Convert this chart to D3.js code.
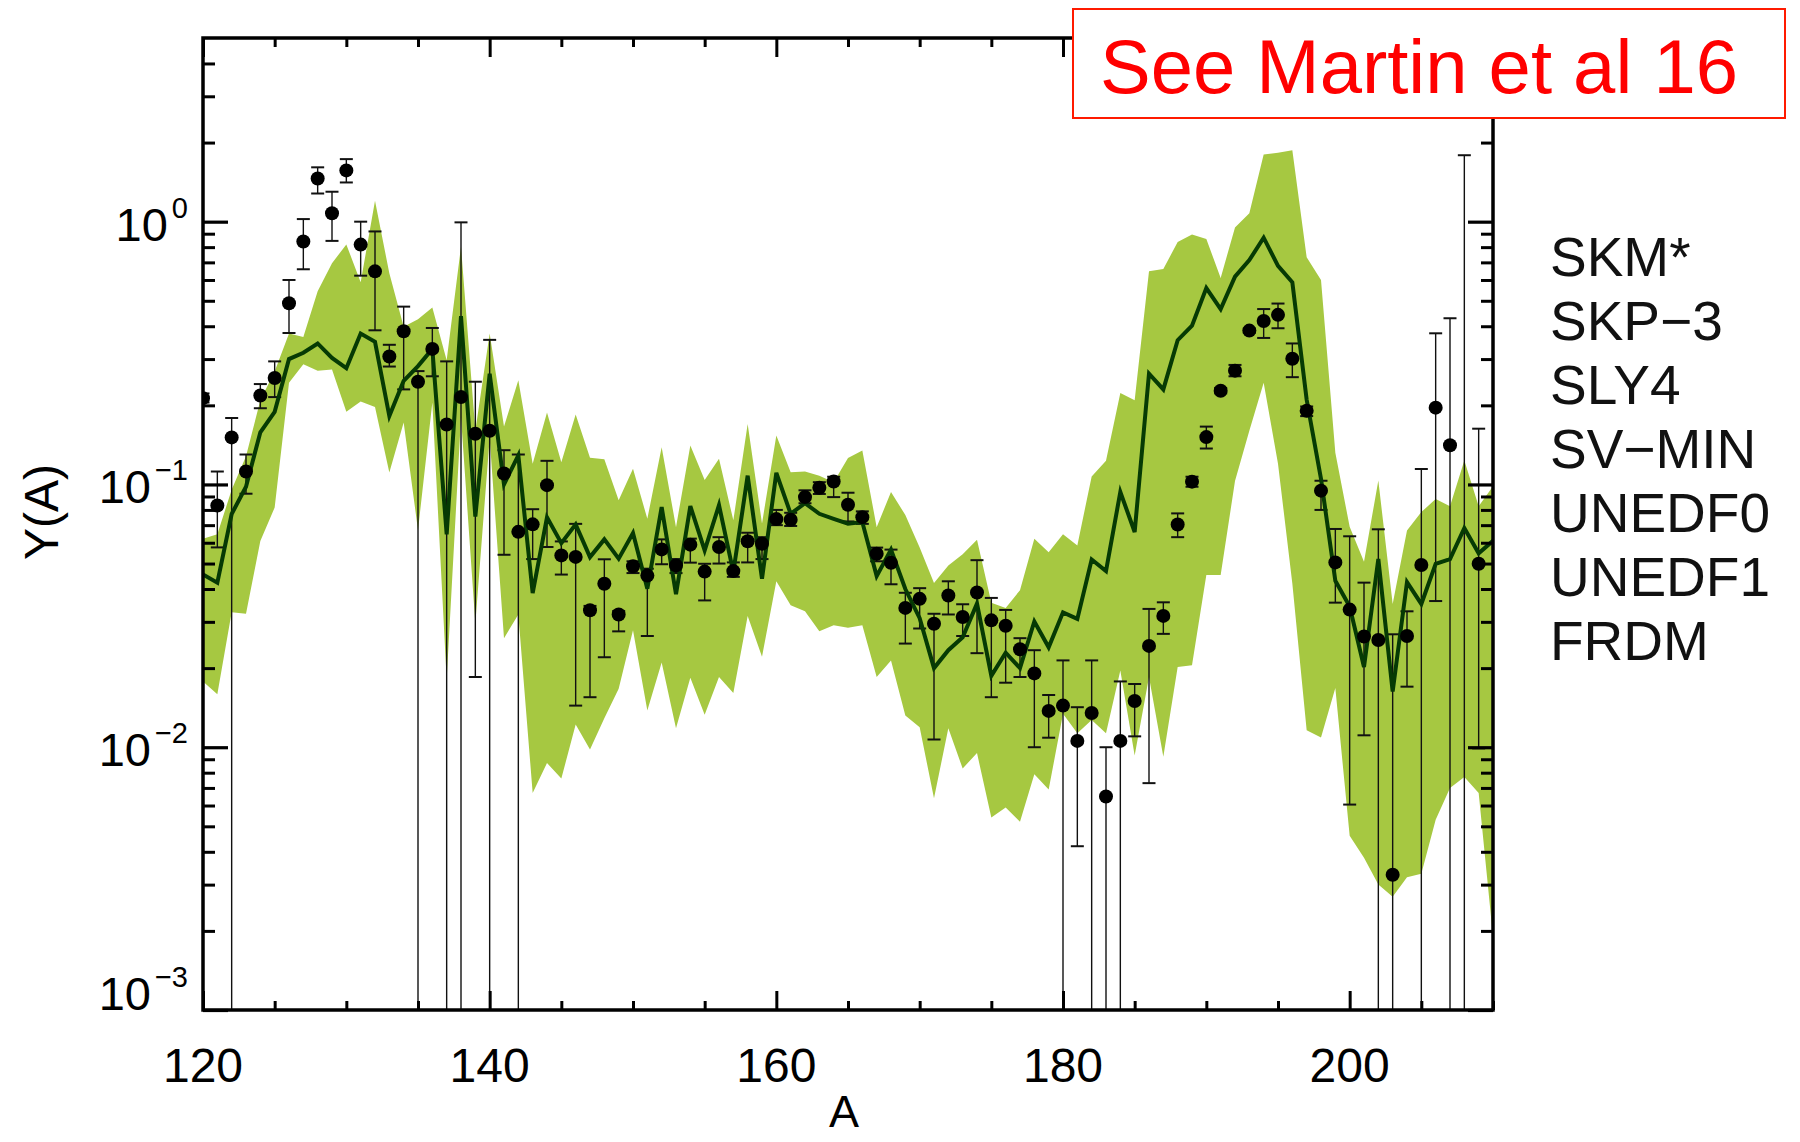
<!DOCTYPE html>
<html>
<head>
<meta charset="utf-8">
<script src="https://cdn.jsdelivr.net/npm/d3@7"></script>
<style>
  html, body { margin: 0; padding: 0; background: #fff; }
  svg { display: block; }
  text { font-family: "Liberation Sans", Arial, Helvetica, sans-serif; }
</style>
</head>
<body>
<svg id="chart" width="1800" height="1142"></svg>
<script>
// ---- Measured fragment yields Y(A) with uncertainties ----
const dotA = [120,121,122,123,124,125,126,127,128,129,130,131,132,133,134,135,136,137,138,139,
              140,141,142,143,144,145,146,147,148,149,150,151,152,153,154,155,156,157,158,159,
              160,161,162,163,164,165,166,167,168,169,170,171,172,173,174,175,176,177,178,179,
              180,181,182,183,184,185,186,187,188,189,190,191,192,193,194,195,196,197,198,199,
              200,201,202,203,204,205,206,207,208,209];
const dotY = [0.213,0.0832,0.151,0.112,0.218,0.254,0.489,0.841,1.46,1.076,
              1.567,0.818,0.647,0.307,0.383,0.246,0.328,0.169,0.215,0.156,
              0.160,0.110,0.066,0.0705,0.0994,0.0537,0.053,0.0332,0.0419,0.032,
              0.0488,0.045,0.0566,0.0492,0.059,0.0466,0.0578,0.0468,0.0608,0.0595,
              0.0738,0.0734,0.0895,0.0971,0.1026,0.0837,0.0751,0.0545,0.0503,0.0339,
              0.0367,0.0295,0.0378,0.0313,0.0388,0.0304,0.029,0.0236,0.0191,0.01375,
              0.0144,0.01057,0.0135,0.00649,0.01057,0.0150,0.0243,0.0316,0.0704,0.1025,
              0.1514,0.2274,0.271,0.385,0.419,0.442,0.301,0.1906,0.0947,0.0505,
              0.0334,0.0264,0.0256,0.00327,0.0265,0.0494,0.196,0.141,null,0.0499];
// lower / upper ends of the error bars (0 = bar runs off the bottom of the log axis)
const dotLo = [0.205,0.0576,0,0.0922,0.195,0.215,0.377,0.659,1.28,0.845,
               1.41,0.623,0.386,0.281,0.23,0,0.258,0,0,0.0185,
               0,0.054,0,0.052,0.0578,0.0454,0.0144,0.0155,0.022,0.0276,
               0.046,0.0265,0.0497,0.046,0.0504,0.0362,0.050,0.0445,0.0505,0.052,
               0.070,0.0695,0.0848,0.092,0.0895,0.0723,0.0708,0.051,0.0417,0.0248,
               0.0283,0.0107,0.032,0.0265,0.0228,0.0155,0.0176,0.0185,0.010,0.01087,
               0,0.0042,0,0,0,0.011,0.0073,0.027,0.063,0.098,
               0.137,0.222,0.258,0.378,0.361,0.393,0.256,0.182,0.080,0.0355,
               0.00605,0.0111,0,0,0.0170,0,0.036,0,0,0.0099];
const dotHi = [0.222,0.112,0.179,0.130,0.241,0.294,0.600,1.023,1.61,1.30,
               1.73,1.0,0.918,0.34,0.475,0.27,0.394,0.294,0.994,0.246,
               0.355,0.135,0.130,0.0805,0.123,0.0607,0.0708,0.0345,0.0519,0.033,
               0.051,0.0478,0.0618,0.052,0.0622,0.0499,0.063,0.0505,0.0655,0.063,
               0.080,0.078,0.095,0.102,0.107,0.093,0.079,0.0575,0.0565,0.0387,
               0.0403,0.0322,0.0428,0.035,0.0515,0.037,0.0333,0.026,0.0234,0.0158,
               0.0214,0.0142,0.0214,0.010,0.0178,0.0174,0.0336,0.0356,0.0776,0.107,
               0.166,0.233,0.285,0.392,0.465,0.488,0.344,0.198,0.1033,0.0677,
               0.0635,0.0423,0.0675,0.0269,0.0329,0.1145,0.376,0.429,1.79,0.163];

// ---- Model spread (SKM*, SKP-3, SLY4, SV-MIN, UNEDF0, UNEDF1, FRDM) ----
const modelA = [120,121,122,123,124,125,126,127,128,129,130,131,132,133,134,135,136,137,138,139,
                140,141,142,143,144,145,146,147,148,149,150,151,152,153,154,155,156,157,158,159,
                160,161,162,163,164,165,166,167,168,169,170,171,172,173,174,175,176,177,178,179,
                180,181,182,183,184,185,186,187,188,189,190,191,192,193,194,195,196,197,198,199,
                200,201,202,203,204,205,206,207,208,209,210];
const bandLow = [0.0178,0.0159,0.0326,0.0322,0.0609,0.0817,0.244,0.287,0.271,0.274,
                 0.189,0.207,0.197,0.111,0.172,0.067,0.205,0.0181,0.18,0.0296,
                 0.15,0.026,0.032,0.0067,0.0087,0.0076,0.0122,0.0098,0.0129,0.0167,
                 0.0279,0.0138,0.021,0.0118,0.0184,0.0133,0.0185,0.0161,0.0316,0.0221,
                 0.0428,0.0347,0.0329,0.0276,0.0291,0.0285,0.0291,0.0185,0.0214,0.0132,
                 0.0119,0.0064,0.0118,0.0083,0.0095,0.0054,0.0059,0.0052,0.0079,0.0069,
                 0.0134,0.0113,0.0127,0.0113,0.0196,0.0093,0.0185,0.0092,0.0202,0.0205,
                 0.0452,0.0452,0.103,0.16,0.244,0.12,0.042,0.0116,0.0109,0.0168,
                 0.0046,0.0038,0.003,0.0027,0.0032,0.0033,0.0053,0.007,0.0077,0.0067,
                 0.0019];
const bandHigh = [0.0621,0.0646,0.0955,0.128,0.209,0.269,0.375,0.364,0.544,0.695,
                  0.819,0.588,1.20,0.636,0.398,0.425,0.471,0.297,0.803,0.16,
                  0.375,0.166,0.249,0.12,0.188,0.1216,0.1846,0.1263,0.1248,0.087,
                  0.1148,0.074,0.1386,0.0688,0.1407,0.104,0.1252,0.073,0.170,0.071,
                  0.1535,0.1114,0.112,0.108,0.102,0.126,0.1347,0.0688,0.0935,0.0765,
                  0.0576,0.0422,0.0492,0.0542,0.0616,0.0355,0.0339,0.0396,0.0621,0.0552,
                  0.0646,0.0586,0.1073,0.123,0.223,0.209,0.648,0.661,0.836,0.893,
                  0.859,0.611,0.950,1.077,1.80,1.83,1.87,0.732,0.60,0.132,
                  0.069,0.0508,0.1035,0.0351,0.0668,0.0785,0.088,0.0826,0.1233,0.0826,
                  0.0985];
const modelMean = [0.0454,0.0423,0.0772,0.098,0.158,0.189,0.300,0.317,0.344,0.303,
                   0.277,0.375,0.349,0.182,0.248,0.282,0.328,0.0646,0.437,0.0755,
                   0.264,0.100,0.129,0.0386,0.075,0.0598,0.0705,0.0529,0.0618,0.0522,
                   0.0653,0.0401,0.082,0.0382,0.0827,0.0561,0.0834,0.0464,0.108,0.0438,
                   0.1107,0.0773,0.0849,0.0773,0.074,0.0709,0.0719,0.0448,0.0565,0.040,
                   0.031,0.020,0.0234,0.0262,0.0352,0.0187,0.0229,0.0200,0.0301,0.0240,
                   0.0326,0.0308,0.0518,0.0468,0.0936,0.0659,0.264,0.230,0.354,0.402,
                   0.559,0.465,0.618,0.714,0.869,0.679,0.588,0.21,0.105,0.043,
                   0.0343,0.0202,0.052,0.0163,0.0425,0.0351,0.0499,0.052,0.0682,0.0547,
                   0.061];

const modelNames = ["SKM*", "SKP\u22123", "SLY4", "SV\u2212MIN", "UNEDF0", "UNEDF1", "FRDM"];

// ---- Axis ticks ----
const xMajorTicks = [120, 140, 160, 180, 200];
const xMinorTicks = [125, 130, 135, 145, 150, 155, 165, 170, 175, 185, 190, 195, 205, 210];
const yExponents = [0, -1, -2, -3];
const yMinorTicks = [0.002,0.003,0.004,0.005,0.006,0.007,0.008,0.009,
                     0.02,0.03,0.04,0.05,0.06,0.07,0.08,0.09,
                     0.2,0.3,0.4,0.5,0.6,0.7,0.8,0.9,
                     2,3,4];
const noteText = "See Martin et al 16";

// ---- Layout ----
const plot = { left: 203, right: 1493, top: 38, bottom: 1010 };
const svg = d3.select("#chart");

const x = d3.scaleLinear().domain([120, 210]).range([plot.left, plot.right]);
const y = d3.scaleLog().domain([1e-3, 5]).range([plot.bottom, plot.top]);

svg.append("defs").append("clipPath").attr("id", "plotClip")
  .append("rect")
  .attr("x", plot.left).attr("y", plot.top)
  .attr("width", plot.right - plot.left).attr("height", plot.bottom - plot.top);

const data = svg.append("g").attr("clip-path", "url(#plotClip)");

// model band
const model = modelA.map((a, i) => ({ a, lo: bandLow[i], hi: bandHigh[i], m: modelMean[i] }));
data.append("path")
  .datum(model)
  .attr("fill", "#a6c841")
  .attr("d", d3.area().x(d => x(d.a)).y0(d => y(d.lo)).y1(d => y(d.hi)));

// error bars
const points = dotA.map((a, i) => ({ a, v: dotY[i], lo: dotLo[i], hi: dotHi[i] }));
const yLo = d => d.lo > 0 ? y(d.lo) : plot.bottom + 5;
const bars = data.append("g").attr("stroke", "#111");
bars.selectAll("line.bar").data(points).join("line")
  .attr("class", "bar")
  .attr("x1", d => x(d.a)).attr("x2", d => x(d.a))
  .attr("y1", d => y(d.hi)).attr("y2", yLo)
  .attr("stroke-width", 1.4);
bars.selectAll("line.capHi").data(points).join("line")
  .attr("class", "capHi")
  .attr("x1", d => x(d.a) - 6.5).attr("x2", d => x(d.a) + 6.5)
  .attr("y1", d => y(d.hi)).attr("y2", d => y(d.hi))
  .attr("stroke-width", 2);
bars.selectAll("line.capLo").data(points.filter(d => d.lo > 0)).join("line")
  .attr("class", "capLo")
  .attr("x1", d => x(d.a) - 6.5).attr("x2", d => x(d.a) + 6.5)
  .attr("y1", d => y(d.lo)).attr("y2", d => y(d.lo))
  .attr("stroke-width", 2);

// model mean line
data.append("path")
  .datum(model)
  .attr("fill", "none")
  .attr("stroke", "#063a04")
  .attr("stroke-width", 4)
  .attr("stroke-linejoin", "miter")
  .attr("d", d3.line().x(d => x(d.a)).y(d => y(d.m)));

// measured points
data.selectAll("circle").data(points.filter(d => d.v !== null)).join("circle")
  .attr("cx", d => x(d.a)).attr("cy", d => y(d.v))
  .attr("r", 7).attr("fill", "#000");

// ---- Axes (ticks pointing inward on all four sides) ----
function styleAxis(g, width) {
  g.select(".domain").remove();
  g.selectAll(".tick line").attr("stroke", "#000").attr("stroke-width", width);
  g.selectAll(".tick text").remove();
}
svg.append("g").attr("transform", `translate(0,${plot.bottom})`)
  .call(d3.axisBottom(x).tickValues(xMajorTicks).tickSizeInner(-19).tickSizeOuter(0))
  .call(g => styleAxis(g, 3));
svg.append("g").attr("transform", `translate(0,${plot.bottom})`)
  .call(d3.axisBottom(x).tickValues(xMinorTicks).tickSizeInner(-9).tickSizeOuter(0))
  .call(g => styleAxis(g, 3));
svg.append("g").attr("transform", `translate(0,${plot.top})`)
  .call(d3.axisBottom(x).tickValues(xMajorTicks).tickSizeInner(19).tickSizeOuter(0))
  .call(g => styleAxis(g, 3));
svg.append("g").attr("transform", `translate(0,${plot.top})`)
  .call(d3.axisBottom(x).tickValues(xMinorTicks).tickSizeInner(9).tickSizeOuter(0))
  .call(g => styleAxis(g, 3));

const yMajorVals = yExponents.map(e => Math.pow(10, e));
svg.append("g").attr("transform", `translate(${plot.left},0)`)
  .call(d3.axisLeft(y).tickValues(yMajorVals).tickSizeInner(-25).tickSizeOuter(0))
  .call(g => styleAxis(g, 3.2));
svg.append("g").attr("transform", `translate(${plot.left},0)`)
  .call(d3.axisLeft(y).tickValues(yMinorTicks).tickSizeInner(-12).tickSizeOuter(0))
  .call(g => styleAxis(g, 3));
svg.append("g").attr("transform", `translate(${plot.right},0)`)
  .call(d3.axisRight(y).tickValues(yMajorVals).tickSizeInner(-25).tickSizeOuter(0))
  .call(g => styleAxis(g, 3.2));
svg.append("g").attr("transform", `translate(${plot.right},0)`)
  .call(d3.axisRight(y).tickValues(yMinorTicks).tickSizeInner(-12).tickSizeOuter(0))
  .call(g => styleAxis(g, 3));

// frame
svg.append("rect")
  .attr("x", plot.left).attr("y", plot.top)
  .attr("width", plot.right - plot.left).attr("height", plot.bottom - plot.top)
  .attr("fill", "none").attr("stroke", "#000").attr("stroke-width", 3.5);

// x tick labels
svg.append("g").selectAll("text").data(xMajorTicks).join("text")
  .attr("x", d => x(d)).attr("y", plot.bottom + 72)
  .attr("text-anchor", "middle")
  .attr("font-size", 48).attr("fill", "#000")
  .text(d => d);

// y tick labels as powers of ten
const yLab = svg.append("g").selectAll("text").data(yExponents).join("text")
  .attr("x", plot.left - 15)
  .attr("y", d => Math.min(y(Math.pow(10, d)) + 19, plot.bottom))
  .attr("text-anchor", "end")
  .attr("font-size", 47).attr("fill", "#000");
yLab.append("tspan").text("10");
yLab.append("tspan")
  .attr("font-size", 29).attr("dx", 4).attr("dy", -23)
  .text(d => d < 0 ? "\u2212" + Math.abs(d) : String(d));

// axis titles
svg.append("text")
  .attr("x", (plot.left + plot.right) / 2 - 4).attr("y", 1127)
  .attr("text-anchor", "middle").attr("font-size", 45).attr("fill", "#000")
  .text("A");
svg.append("text")
  .attr("transform", `translate(58,${(plot.top + plot.bottom) / 2 - 12}) rotate(-90)`)
  .attr("text-anchor", "middle").attr("font-size", 48).attr("fill", "#000")
  .text("Y(A)");

// model names
svg.append("g").selectAll("text").data(modelNames).join("text")
  .attr("x", 1550)
  .attr("y", (d, i) => 276 + i * 64)
  .attr("font-size", 55).attr("fill", "#111")
  .text(d => d);

// reference note
svg.append("rect")
  .attr("x", 1073).attr("y", 9).attr("width", 712).attr("height", 109)
  .attr("fill", "#fff").attr("stroke", "#ff1a00").attr("stroke-width", 2);
svg.append("text")
  .attr("x", 1100).attr("y", 93)
  .attr("font-size", 76).attr("fill", "#ff0000")
  .text(noteText);
</script>
</body>
</html>
